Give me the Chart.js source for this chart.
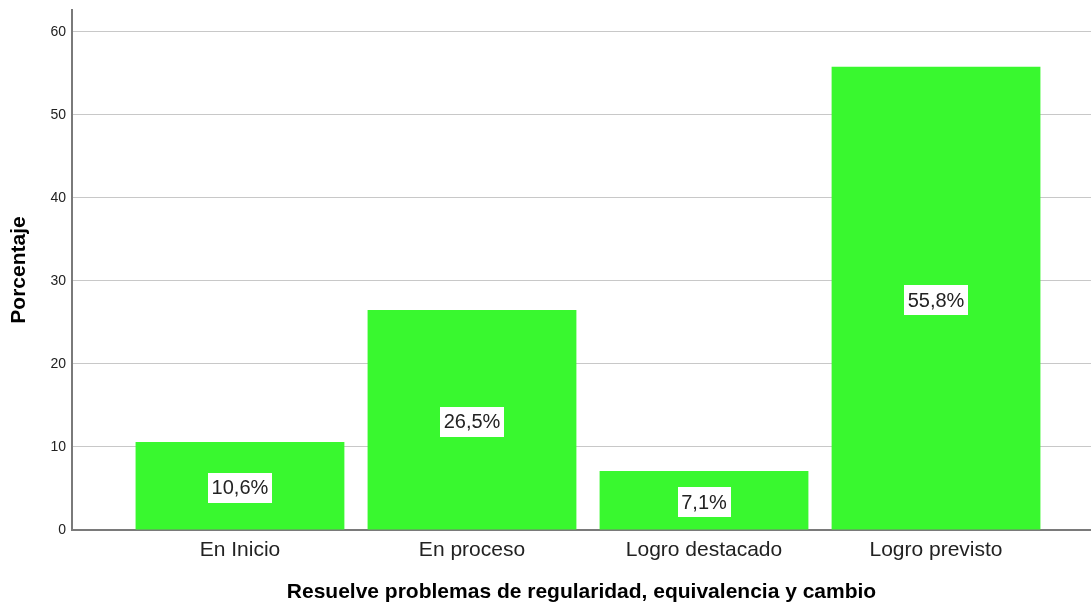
<!DOCTYPE html>
<html>
<head>
<meta charset="utf-8">
<script src="https://cdn.jsdelivr.net/npm/chart.js@4"></script>
<style>
  html, body { margin: 0; padding: 0; background: #ffffff; }
  #wrap { width: 1091px; height: 605px; position: relative; }
</style>
</head>
<body>
<div id="wrap"><canvas id="c" width="1091" height="605"></canvas></div>
<script>
// ---- data ----
const categories = ["En Inicio", "En proceso", "Logro destacado", "Logro previsto"];
const percentages = [10.6, 26.5, 7.1, 55.8];
const valueLabels = ["10,6%", "26,5%", "7,1%", "55,8%"];
const yTickValues = [0, 10, 20, 30, 40, 50, 60];
const xTitle = "Resuelve problemas de regularidad, equivalencia y cambio";
const yTitle = "Porcentaje";

const FONT = "'Liberation Sans', Arial, Helvetica, sans-serif";
const TEXT = "#222222";
const BAR = "#39F82F";

const points = percentages.map((v, i) => ({ x: i, y: v }));

const labelPlugin = {
  id: 'boxLabels',
  afterDatasetsDraw(chart) {
    const ctx = chart.ctx;
    const meta = chart.getDatasetMeta(0);
    ctx.save();
    ctx.font = "20px " + FONT;
    ctx.textAlign = 'center';
    ctx.textBaseline = 'middle';
    meta.data.forEach((bar, i) => {
      const txt = valueLabels[i];
      const cx = bar.x;
      const cy = (bar.y + bar.base) / 2 + 2;
      const w = ctx.measureText(txt).width + 7;
      const h = 30;
      ctx.fillStyle = '#ffffff';
      ctx.fillRect(Math.round(cx - w / 2), Math.round(cy - h / 2), Math.round(w), h);
      ctx.fillStyle = TEXT;
      ctx.fillText(txt, cx, cy + 1);
    });
    ctx.restore();
  }
};

new Chart(document.getElementById('c'), {
  type: 'bar',
  data: {
    datasets: [{
      data: points,
      backgroundColor: BAR,
      borderWidth: 0,
      barPercentage: 0.9,
      categoryPercentage: 1.0
    }]
  },
  options: {
    responsive: false,
    animation: false,
    layout: { padding: { top: 10, left: 0, right: 0, bottom: 0 } },
    plugins: { legend: { display: false }, tooltip: { enabled: false } },
    scales: {
      x: {
        type: 'linear',
        offset: false,
        min: -0.724,
        max: 3.668,
        afterBuildTicks(scale) { scale.ticks = categories.map((c, i) => ({ value: i })); },
        afterFit(scale) { scale.height = 75; scale.paddingLeft = 0; scale.paddingRight = 0; },
        grid: { display: false, drawTicks: false, offset: false },
        border: { display: true, color: '#7a7a7a', width: 2 },
        ticks: {
          autoSkip: false,
          maxRotation: 0,
          padding: 8,
          color: TEXT,
          font: { family: FONT, size: 21 },
          callback: (v) => categories[v]
        },
        title: {
          display: true,
          text: xTitle,
          color: '#000000',
          font: { family: FONT, size: 21, weight: 'bold' },
          padding: { top: 0, bottom: 0 }
        }
      },
      y: {
        type: 'linear',
        min: 0,
        max: 62.65,
        afterBuildTicks(scale) { scale.ticks = yTickValues.map(v => ({ value: v })); },
        afterFit(scale) { scale.width = 72; scale.paddingTop = 0; scale.paddingBottom = 0; },
        grid: { color: '#c8c8c8', lineWidth: 1, drawTicks: false },
        border: { display: true, color: '#7a7a7a', width: 2 },
        ticks: {
          padding: 6,
          color: TEXT,
          font: { family: FONT, size: 14 }
        },
        title: {
          display: true,
          text: yTitle,
          color: '#000000',
          font: { family: FONT, size: 21, weight: 'bold' },
          padding: { top: 7, bottom: 0 }
        }
      }
    }
  },
  plugins: [labelPlugin]
});
</script>
</body>
</html>
